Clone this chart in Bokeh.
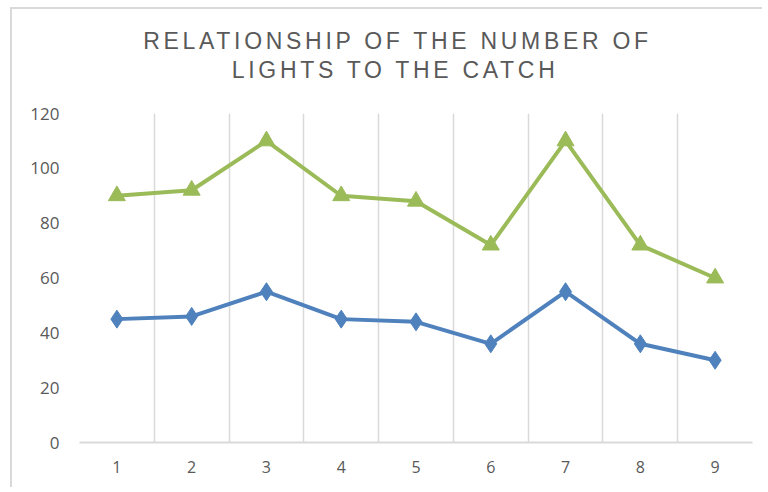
from bokeh.plotting import figure
from bokeh.layouts import column
from bokeh.models import FixedTicker, Range1d, Label
from bokeh.embed import file_html
from bokeh.resources import INLINE

categories = [1, 2, 3, 4, 5, 6, 7, 8, 9]
series_top = [90, 92, 110, 90, 88, 72, 110, 72, 60]
series_bottom = [45, 46, 55, 45, 44, 36, 55, 36, 30]
y_ticks = [0, 20, 40, 60, 80, 100, 120]
title_lines = ["RELATIONSHIP OF THE NUMBER OF", "LIGHTS TO THE CATCH"]

GREEN = "#9BBB59"
BLUE = "#4F81BD"
GRAY_TXT = "#595959"
GRID = "#D9D9D9"

W = 750
TH = 84

# ---- title figure (letter-spaced text) ----
tfig = figure(width=W, height=TH, output_backend="svg", toolbar_location=None,
              x_range=Range1d(0, W), y_range=Range1d(0, TH),
              min_border=0, min_border_left=0, min_border_right=0,
              min_border_top=0, min_border_bottom=0)
tfig.axis.visible = False
tfig.grid.visible = False
tfig.outline_line_color = None
tfig.styles = {"letter-spacing": "3.7px"}
title_x = [295, 313]
title_y = [52.3, 24.0]
for t, tx, ty in zip(title_lines, title_x, title_y):
    tfig.add_layout(Label(x=tx, y=ty, text=t, text_align="center",
                          text_baseline="middle", text_font="Liberation Sans",
                          text_font_size="23px", text_color=GRAY_TXT))

# ---- main chart ----
p = figure(width=W, height=394, output_backend="svg", toolbar_location=None,
           x_range=Range1d(0.5, 9.5), y_range=Range1d(0, 120),
           min_border_left=67, min_border_right=10, min_border_top=20,
           min_border_bottom=45)
p.outline_line_color = None
p.background_fill_color = "white"
p.border_fill_color = "white"

# grids
p.xgrid.ticker = FixedTicker(ticks=[c - 0.5 for c in categories] + [categories[-1] + 0.5])
p.xgrid.grid_line_color = GRID
p.xgrid.grid_line_width = 1.5
p.ygrid.grid_line_color = None

# x axis
p.xaxis.ticker = FixedTicker(ticks=categories)
p.xaxis.axis_line_color = GRID
p.xaxis.axis_line_width = 2
p.xaxis.major_tick_line_color = None
p.xaxis.minor_tick_line_color = None
p.xaxis.major_label_standoff = 12
p.xaxis.major_label_text_font = "Open Sans"
p.xaxis.major_label_text_font_size = "16px"
p.xaxis.major_label_text_color = GRAY_TXT

# y axis
p.yaxis.ticker = FixedTicker(ticks=y_ticks)
p.yaxis.axis_line_color = None
p.yaxis.major_tick_line_color = None
p.yaxis.minor_tick_line_color = None
p.yaxis.major_label_standoff = 14
p.yaxis.major_label_text_font = "Open Sans"
p.yaxis.major_label_text_font_size = "17px"
p.yaxis.major_label_text_color = GRAY_TXT

p.line(categories, series_top, line_color=GREEN, line_width=4)
p.scatter(categories, series_top, marker="triangle", size=17,
          fill_color=GREEN, line_color=GREEN)
p.line(categories, series_bottom, line_color=BLUE, line_width=4)
p.scatter(categories, series_bottom, marker="diamond", size=18,
          fill_color=BLUE, line_color=BLUE)

layout = column(tfig, p, spacing=0)
layout.styles = {"border-top": "2px solid #D9D9D9", "border-left": "2px solid #D9D9D9",
                 "margin-top": "7px", "margin-left": "10px"}

open("out.html", "w").write(file_html(layout, INLINE))
